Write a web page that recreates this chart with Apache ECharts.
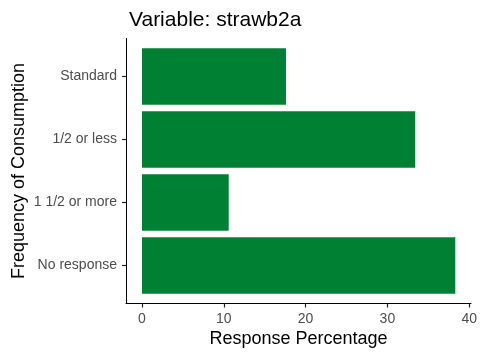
<!DOCTYPE html>
<html>
<head>
<meta charset="utf-8">
<script src="https://cdn.jsdelivr.net/npm/echarts@6/dist/echarts.min.js"></script>
<style>html,body{margin:0;padding:0;background:#fff}#c{width:480px;height:360px}</style>
</head>
<body>
<div id="c"></div>
<script>
const categories = ['No response', '1 1/2 or more', '1/2 or less', 'Standard'];
const values = [38.3, 10.6, 33.4, 17.6];
const xTicks = [0, 10, 20, 30, 40];

const FONT = 'Liberation Sans, Arial, sans-serif';
const chart = echarts.init(document.getElementById('c'));
chart.setOption({
  animation: false,
  backgroundColor: '#ffffff',
  title: {
    text: 'Variable: strawb2a',
    left: 124, top: 5,
    textStyle: { fontFamily: FONT, fontSize: 21, fontWeight: 'normal', color: '#000' }
  },
  grid: [
    { left: 142, right: 10.7, top: 45, bottom: 63 },
    { left: 126, right: 9, top: 38.5, bottom: 56.5 },
    { left: 126, right: 9, top: 45, bottom: 63 }
  ],
  xAxis: [
    {
      gridIndex: 0, type: 'value', min: xTicks[0], max: xTicks[xTicks.length - 1], interval: 10,
      offset: 6.5,
      axisLine: { show: true, onZero: false, lineStyle: { color: '#000', width: 1 } },
      axisTick: { show: true, inside: false, length: 4, lineStyle: { color: '#222', width: 1.2 } },
      axisLabel: { margin: 9, fontFamily: FONT, fontSize: 14, color: '#4D4D4D' },
      splitLine: { show: false }
    },
    {
      gridIndex: 1, type: 'value', min: 0, max: 1,
      axisLine: { show: true, onZero: false, lineStyle: { color: '#000', width: 1 } },
      axisTick: { show: false }, axisLabel: { show: false }, splitLine: { show: false },
      name: 'Response Percentage', nameLocation: 'middle', nameGap: 27,
      nameTextStyle: { fontFamily: FONT, fontSize: 18, color: '#000' }
    },
    {
      gridIndex: 2, type: 'value', min: 0, max: 1,
      axisLine: { show: false }, axisTick: { show: false }, axisLabel: { show: false }, splitLine: { show: false }
    }
  ],
  yAxis: [
    {
      gridIndex: 0, type: 'category', data: categories,
      axisLine: { show: false }, axisTick: { show: false }, axisLabel: { show: false },
      splitLine: { show: false }
    },
    {
      gridIndex: 1, type: 'value', min: 0, max: 1,
      axisLine: { show: true, onZero: false, lineStyle: { color: '#000', width: 1 } },
      axisTick: { show: false }, axisLabel: { show: false }, splitLine: { show: false },
      name: 'Frequency of Consumption', nameLocation: 'middle', nameGap: 98, nameRotate: 90,
      nameTextStyle: { fontFamily: FONT, fontSize: 18, color: '#000' }
    },
    {
      gridIndex: 2, type: 'category', data: categories,
      axisLine: { show: true, onZero: false, lineStyle: { color: '#000', width: 1 } },
      axisTick: { show: true, inside: false, length: 4, alignWithLabel: true, lineStyle: { color: '#222', width: 1.2 } },
      axisLabel: { margin: 9, fontFamily: FONT, fontSize: 14, color: '#4D4D4D' },
      splitLine: { show: false }
    }
  ],
  series: [
    {
      type: 'bar', xAxisIndex: 0, yAxisIndex: 0,
      data: values, barCategoryGap: '10%',
      itemStyle: { color: '#008033' },
      silent: true
    }
  ]
});
</script>
</body>
</html>
